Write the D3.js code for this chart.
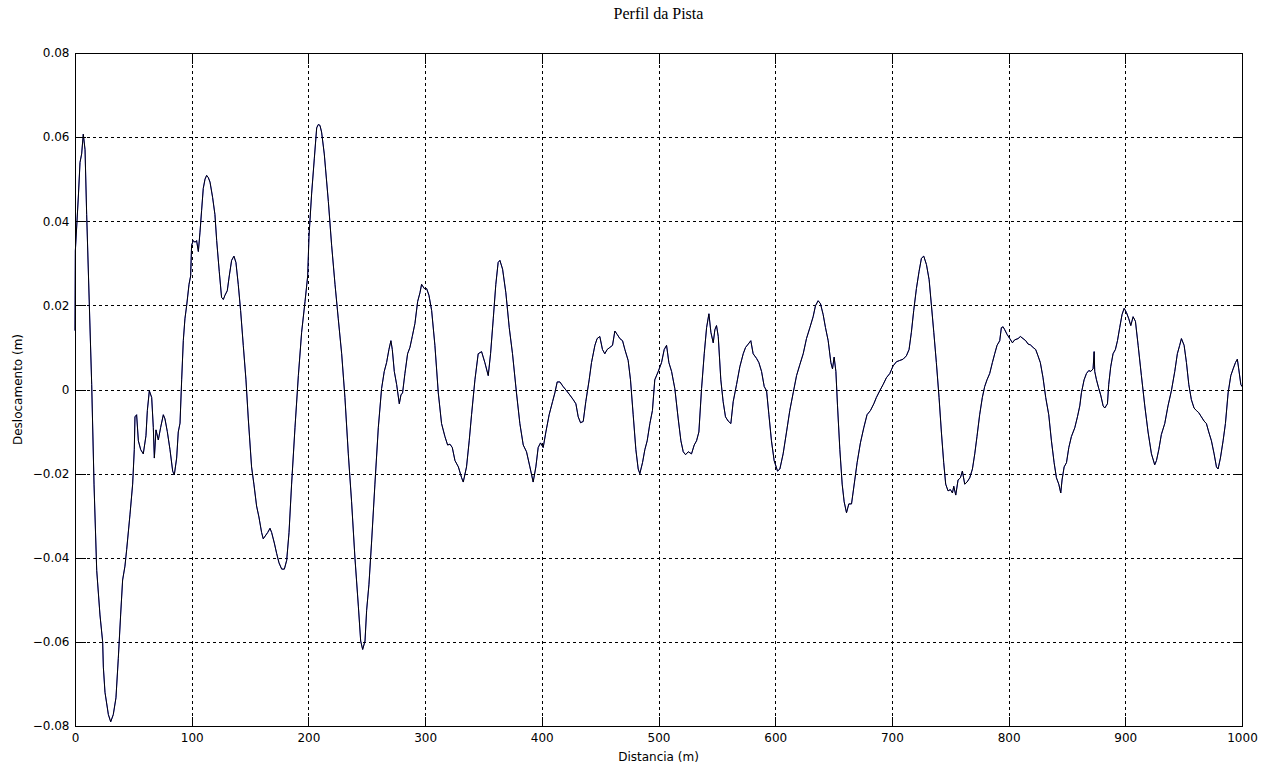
<!DOCTYPE html>
<html>
<head>
<meta charset="utf-8">
<script src="https://cdn.jsdelivr.net/npm/d3@7/dist/d3.min.js"></script>
<style>
  html, body { margin: 0; padding: 0; background: #fff; }
  svg { display: block; }
</style>
</head>
<body>
<svg id="chart" width="1271" height="767"></svg>
<script>
// ---- data ----
const titleText = "Perfil da Pista";
const xLabelText = "Distancia (m)";
const yLabelText = "Deslocamento (m)";
const xTicks = [0, 100, 200, 300, 400, 500, 600, 700, 800, 900, 1000];
const yTicks = [-0.08, -0.06, -0.04, -0.02, 0, 0.02, 0.04, 0.06, 0.08];

const distance = [
0,0.3,2.9,4.3,5.7,7.1,8.6,10.0,12.3,14.3,16.3,18.6,21.4,23.7,24.3,25.7,28.6,30.6,32.8,35.1,37.1,39.1,40.8,42.8,44.3,47.1,49.4,50.8,51.4,52.8,54.3,56.3,58.5,60.8,62.0,63.7,65.7,67.1,68.0,69.4,71.4,73.4,75.7,77.1,79.1,81.4,83.7,85.1,87.1,88.5,90.0,91.4,92.8,94.2,95.7,97.7,99.1,99.9,101.4,102.8,104.2,105.7,107.1,108.5,109.9,111.4,112.8,114.2,115.7,117.9,119.9,121.4,123.6,125.6,127.1,128.5,130.5,132.2,134.2,136.2,137.9,139.9,141.9,144.2,146.5,148.5,151.3,153.3,155.6,157.6,159.9,161.3,
165.1,167.1,168.5,170.8,172.8,174.8,177.1,179.4,181.4,183.4,185.6,188.5,191.4,194.2,197.1,199.4,200.5,202.8,205.1,207.1,208.5,209.9,211.3,213.6,217.1,219.9,222.8,225.6,228.5,231.3,234.2,237.0,239.9,242.8,244.8,246.5,248.5,249.9,251.9,254.2,257.0,259.9,262.7,265.0,267.0,269.0,270.7,271.9,273.6,275.6,277.9,279.3,280.7,282.7,285.0,287.0,289.0,291.3,293.6,295.6,297.0,299.3,301.3,303.3,305.6,308.4,311.3,314.1,317.0,319.3,321.3,323.3,325.6,328.5,331.3,
332.7,335.5,337.8,339.8,342.7,345.5,348.4,351.2,354.1,356.1,358.4,360.6,362.6,364.1,366.4,369.2,372.1,374.9,378.3,381.2,384.1,386.9,389.8,392.6,394.9,396.9,398.9,401.2,403.5,406.3,409.2,411.2,413.2,415.5,418.3,421.2,424.0,426.9,429.2,431.2,433.2,435.5,437.7,440.6,442.6,445.5,447.4,449.7,452.0,454.0,456.0,458.3,460.6,462.6,464.6,466.9,469.2,471.2,474.0,476.0,478.3,480.6,482.6,484.0,486.3,488.3,490.3,492.6,494.8,496.8,499.8,
502.6,504.9,506.9,508.9,511.2,514.0,516.9,519.2,521.2,523.2,525.5,528.3,530.6,532.6,534.6,536.9,539.2,541.2,543.2,544.9,546.9,548.3,549.7,551.2,553.4,555.4,557.4,559.7,562.0,564.0,566.9,569.7,572.6,574.6,576.9,579.1,581.1,584.0,586.0,588.3,590.6,592.6,594.6,596.8,599.1,602.0,604.0,606.8,609.7,612.5,615.4,618.3,621.1,624.0,626.8,629.7,632.5,634.5,636.8,638.8,641.1,643.1,645.4,647.7,649.1,650.5,652.0,653.4,655.4,657.4,659.1,661.1,663.1,665.4,
668.2,670.2,673.0,675.9,678.7,681.6,684.5,686.7,689.6,692.5,695.3,698.2,701.0,703.9,706.7,709.6,712.4,714.7,716.7,718.7,721.0,723.3,725.3,727.3,729.6,731.9,733.9,735.9,738.1,740.4,742.4,744.4,746.1,748.1,750.1,751.9,753.0,754.7,756.7,758.7,760.4,762.4,764.4,766.7,769.0,771.0,772.9,775.2,777.5,779.5,781.5,783.8,786.1,788.1,790.1,792.4,793.8,795.3,796.7,798.7,801.0,803.3,805.2,808.1,810.1,812.4,814.7,816.7,818.7,821.0,823.2,825.2,827.2,829.5,831.8,
834.4,836.7,839.0,841.0,843.0,844.7,845.8,847.6,849.6,851.6,853.8,856.7,859.0,861.0,862.4,864.7,866.7,868.7,870.4,872.4,873.3,873.8,875.3,877.3,878.9,881.0,882.4,884.7,885.8,887.5,889.5,891.5,893.3,895.2,897.2,899.0,901.0,903.0,904.7,906.7,908.7,911.0,913.8,916.7,919.5,922.4,925.2,926.7,928.7,930.9,933.8,936.6,939.5,942.4,944.6,946.6,948.1,950.4,952.4,954.4,956.6,958.9,960.9,962.9,965.2,967.5,969.5,971.5,973.8,976.1,978.1,979.5,981.5,983.8,985.8,988.1,990.4,992.4,994.4,996.0,997.2,999.0,1000
];

const displacement = [
0.014,0.033,0.046,0.054,0.056,0.0607,0.057,0.0416,0.020,0.0012,-0.0225,-0.043,-0.0536,-0.060,-0.066,-0.072,-0.0773,-0.079,-0.0773,-0.0733,-0.064,-0.0536,-0.0453,-0.042,-0.038,-0.0298,-0.0225,-0.0143,-0.0065,-0.006,-0.0122,-0.0143,-0.0153,-0.011,-0.005,-0.0003,-0.0019,-0.009,-0.0163,-0.0096,-0.012,-0.009,-0.006,-0.007,-0.010,-0.0143,-0.0194,-0.0203,-0.0163,-0.0101,-0.008,0.0023,0.0116,0.0168,0.020,0.025,0.027,0.0343,0.0354,0.0350,0.0354,0.0328,0.0374,0.0426,0.0478,0.050,0.0509,0.0504,0.0493,0.0457,0.0416,0.0354,0.0281,0.0219,0.0214,0.0224,0.0235,0.027,0.0307,0.0317,0.0302,0.025,0.0188,0.0105,0.0023,-0.007,-0.0184,-0.0225,-0.0277,-0.0303,-0.034,-0.0355,
-0.034,-0.033,-0.034,-0.0365,-0.039,-0.0412,-0.0427,-0.0427,-0.0406,-0.034,-0.0225,-0.0091,0.0033,0.0136,0.0209,0.027,0.0364,0.0467,0.055,0.0622,0.063,0.0628,0.0612,0.056,0.0447,0.0343,0.025,0.0168,0.0085,-0.0019,-0.0153,-0.0267,-0.0401,-0.0515,-0.0598,-0.0618,-0.0598,-0.0525,-0.0463,-0.036,-0.0225,-0.0091,0.0002,0.0043,0.0064,0.0095,0.0116,0.0095,0.0043,0.0012,-0.0034,-0.0013,-0.0008,0.0038,0.0085,0.010,0.0126,0.0157,0.0209,0.023,0.025,0.024,0.024,0.0224,0.0188,0.0105,-0.0008,-0.0081,-0.0112,-0.0132,-0.013,-0.0138,-0.0169,-0.0184,-0.021,
-0.022,-0.0184,-0.0122,-0.006,0.0023,0.0085,0.009,0.0064,0.0033,0.0085,0.0168,0.025,0.0302,0.0307,0.0286,0.023,0.0147,0.0085,-0.0008,-0.0081,-0.0132,-0.0148,-0.0184,-0.022,-0.0184,-0.0138,-0.0127,-0.0138,-0.0101,-0.006,-0.0029,-0.0008,0.0018,0.0018,0.0007,-0.0003,-0.0013,-0.0024,-0.0034,-0.0065,-0.0079,-0.0076,-0.0029,0.0023,0.0064,0.0105,0.0121,0.0126,0.0095,0.0085,0.0095,0.010,0.0105,0.0139,0.0131,0.0121,0.0116,0.0095,0.0069,0.0023,-0.006,-0.0143,-0.0189,-0.020,-0.0174,-0.0143,-0.0122,-0.0081,-0.005,0.0023,0.0043,
0.0064,0.0095,0.0105,0.0064,0.0043,0.0002,-0.007,-0.0122,-0.0148,-0.0155,-0.0148,-0.0153,-0.0132,-0.0122,-0.0101,0.0002,0.0085,0.0147,0.018,0.0136,0.0111,0.0142,0.0152,0.0126,0.0023,-0.0029,-0.0065,-0.0075,-0.0081,-0.0029,0.0012,0.0054,0.0085,0.010,0.0108,0.0116,0.0085,0.0074,0.0064,0.0043,0.0007,-0.0003,-0.006,-0.0122,-0.0169,-0.0194,-0.0189,-0.0153,-0.0101,-0.005,-0.0008,0.0033,0.0059,0.0085,0.0121,0.0147,0.0173,0.0199,0.0211,0.0204,0.0178,0.0147,0.0116,0.0064,0.0049,0.0077,0.0043,-0.0039,-0.0143,-0.0225,-0.0267,-0.0293,-0.0272,-0.0272,
-0.0215,-0.0174,-0.0127,-0.0091,-0.006,-0.005,-0.0034,-0.0019,-0.0003,0.0012,0.0028,0.0038,0.0056,0.0066,0.0069,0.0072,0.008,0.0095,0.0136,0.0188,0.024,0.0281,0.0312,0.0317,0.0297,0.0261,0.0199,0.0136,0.0064,-0.0019,-0.0101,-0.0174,-0.0225,-0.0241,-0.0238,-0.0246,-0.023,-0.0251,-0.0215,-0.021,-0.0194,-0.0225,-0.022,-0.021,-0.0189,-0.0153,-0.0112,-0.006,-0.0019,0.0007,0.0023,0.0038,0.0064,0.0085,0.0105,0.0116,0.0147,0.0149,0.0142,0.0131,0.0121,0.0111,0.0118,0.0121,0.0126,0.0121,0.0116,0.0108,0.0106,0.010,0.0095,0.008,0.0064,0.0028,-0.0019,
-0.006,-0.0122,-0.0174,-0.021,-0.0225,-0.0246,-0.0215,-0.0184,-0.0174,-0.0138,-0.0112,-0.0091,-0.0065,-0.0039,-0.0008,0.0023,0.0038,0.0045,0.0043,0.0049,0.009,0.0043,0.0023,0.0002,-0.0013,-0.0039,-0.0044,-0.0034,0.0012,0.0054,0.0085,0.0095,0.0116,0.0147,0.0178,0.0193,0.0183,0.0168,0.0152,0.0173,0.0162,0.0105,0.0033,-0.0039,-0.0101,-0.0153,-0.0179,-0.0169,-0.0143,-0.0107,-0.0081,-0.0039,-0.0003,0.0043,0.0085,0.0105,0.0121,0.0105,0.0064,0.0012,-0.0024,-0.0044,-0.005,-0.0055,-0.0065,-0.0075,-0.0081,-0.0101,-0.0122,-0.0153,-0.0184,-0.0189,-0.0163,-0.0122,-0.0081,-0.0008,0.0033,0.0049,0.0064,0.0072,0.0049,0.0012,0.0007
];

if (distance.length !== displacement.length) {
  throw new Error("length mismatch " + distance.length + " vs " + displacement.length);
}

// ---- layout ----
const svg = d3.select("#chart");
const mLeft = 75, mRight = 1242, mTop = 53, mBottom = 726;
const x = d3.scaleLinear().domain([0, 1000]).range([mLeft, mRight]);
const y = d3.scaleLinear().domain([-0.08, 0.08]).range([mBottom, mTop]);
const font = "'DejaVu Sans', sans-serif";
const tickLen = 10;

// grid
const grid = svg.append("g").attr("stroke", "#000").attr("stroke-width", 1)
  .attr("stroke-dasharray", "3,3").attr("shape-rendering", "crispEdges");
grid.selectAll("line.gx").data(xTicks.slice(1, -1)).join("line")
  .attr("class", "gx")
  .attr("x1", d => Math.round(x(d)) + 0.5).attr("x2", d => Math.round(x(d)) + 0.5)
  .attr("y1", mTop).attr("y2", mBottom);
grid.selectAll("line.gy").data(yTicks.slice(1, -1)).join("line")
  .attr("class", "gy")
  .attr("x1", mLeft).attr("x2", mRight)
  .attr("y1", d => Math.round(y(d)) + 0.5).attr("y2", d => Math.round(y(d)) + 0.5);

// series (blue trace beneath the black one)
const points = d3.zip(distance, displacement);
const line = d3.line().x(d => x(d[0])).y(d => y(d[1]));
svg.append("path").datum(points)
  .attr("fill", "none").attr("stroke", "#0000ff").attr("stroke-width", 0.8)
  .attr("d", line);
svg.append("path").datum(points)
  .attr("fill", "none").attr("stroke", "#000").attr("stroke-width", 1)
  .attr("d", line);

// frame
svg.append("rect").attr("x", mLeft + 0.5).attr("y", mTop + 0.5)
  .attr("width", mRight - mLeft).attr("height", mBottom - mTop)
  .attr("fill", "none").attr("stroke", "#000").attr("stroke-width", 1)
  .attr("shape-rendering", "crispEdges");

// axes (inward ticks on all four sides)
const axB = d3.axisBottom(x).tickValues(xTicks).tickSize(-tickLen).tickPadding(7).tickFormat(d3.format("d"));
const axT = d3.axisTop(x).tickValues(xTicks).tickSize(-tickLen).tickFormat("");
const yFmt = d => d === 0 ? "0" : d3.format(".2f")(d);
const axL = d3.axisLeft(y).tickValues(yTicks).tickSize(-tickLen).tickPadding(6).tickFormat(yFmt);
const axR = d3.axisRight(y).tickValues(yTicks).tickSize(-tickLen).tickFormat("");

function style(g) {
  g.select(".domain").remove();
  g.selectAll(".tick line").attr("stroke", "#000").attr("shape-rendering", "crispEdges");
  g.selectAll(".tick text").attr("fill", "#000").style("font-family", font).style("font-size", "12px");
}
svg.append("g").attr("transform", `translate(0,${mBottom + 0.5})`).call(axB).call(style);
svg.append("g").attr("transform", `translate(0,${mTop + 0.5})`).call(axT).call(style);
svg.append("g").attr("transform", `translate(${mLeft + 0.5},0)`).call(axL).call(style);
svg.append("g").attr("transform", `translate(${mRight + 0.5},0)`).call(axR).call(style);

// titles
svg.append("text").attr("x", (mLeft + mRight) / 2).attr("y", 19)
  .attr("text-anchor", "middle").style("font-family", "'Liberation Serif', 'Times New Roman', serif")
  .style("font-size", "16px").text(titleText);
svg.append("text").attr("x", (mLeft + mRight) / 2).attr("y", 761)
  .attr("text-anchor", "middle").style("font-family", font).style("font-size", "12px").text(xLabelText);
svg.append("text").attr("transform", `translate(22,${(mTop + mBottom) / 2}) rotate(-90)`)
  .attr("text-anchor", "middle").style("font-family", font).style("font-size", "12px").text(yLabelText);
</script>
</body>
</html>
